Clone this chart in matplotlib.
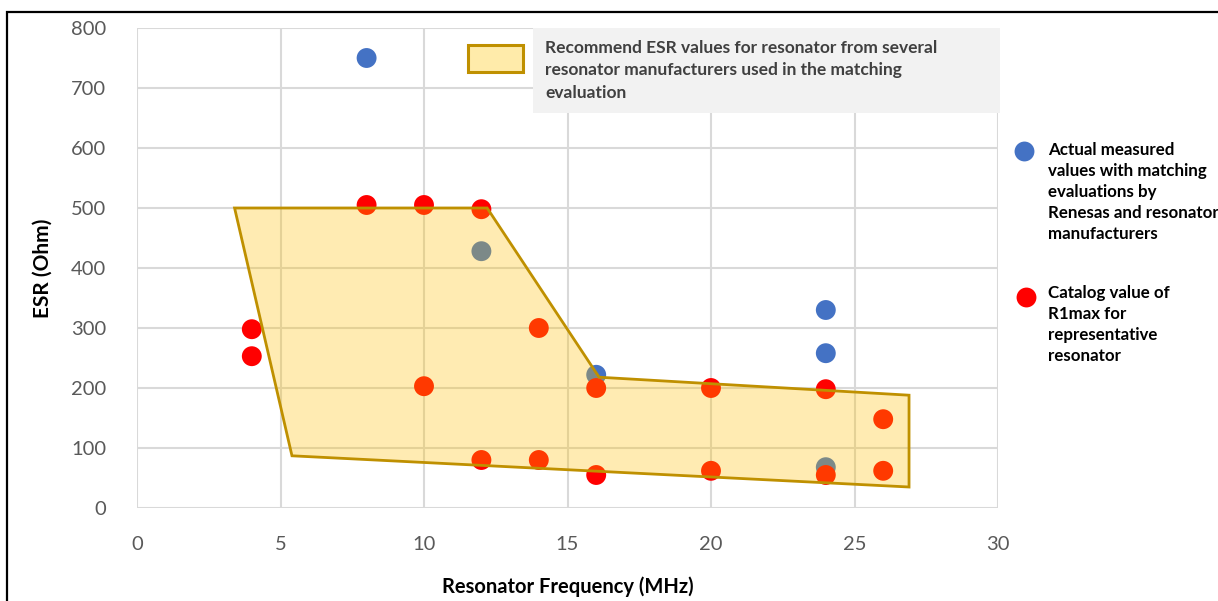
import matplotlib
matplotlib.use("Agg")
import matplotlib.pyplot as plt
from matplotlib.patches import Polygon, Rectangle
from matplotlib.lines import Line2D

plt.rcParams['font.family'] = ['Lato', 'DejaVu Sans']

# Data
blue_x = [8, 12, 16, 24, 24, 24]
blue_y = [750, 428, 222, 330, 258, 68]
red_x = [4, 4, 8, 10, 12, 14, 10, 16, 20, 24, 26, 12, 14, 16, 20, 24, 26]
red_y = [298, 253, 505, 505, 498, 300, 203, 200, 200, 198, 148, 80, 80, 55, 62, 55, 62]
region_x = [3.4, 12.2, 16.1, 26.9, 26.9, 5.4]
region_y = [500, 500, 218, 188, 35, 87]
x_ticks = [0, 5, 10, 15, 20, 25, 30]
y_ticks = [0, 100, 200, 300, 400, 500, 600, 700, 800]

blue_label = "Actual measured\nvalues with matching\nevaluations by\nRenesas and resonator\nmanufacturers"
red_label = "Catalog value of\nR1max for\nrepresentative\nresonator"
region_label = ("Recommend ESR values for resonator from several\n"
                "resonator manufacturers used in the matching\nevaluation")

W, H = 1218, 601
fig = plt.figure(figsize=(W / 100, H / 100), dpi=100)
ax = fig.add_axes([137 / W, 1 - 508 / H, (998 - 137) / W, (508 - 28) / H])

ax.set_xlim(0, 30)
ax.set_ylim(0, 800)
ax.set_xticks(x_ticks)
ax.set_yticks(y_ticks)
ax.grid(True, color='#D9D9D9', linewidth=1.5, zorder=0.5)
ax.set_axisbelow(True)
for s in ax.spines.values():
    s.set_visible(False)
ax.tick_params(length=0, labelsize=14.5, labelcolor='#595959')
ax.tick_params(axis='y', pad=22)
ax.tick_params(axis='x', pad=20)

ms = 205
ax.scatter(blue_x, blue_y, s=ms, color='#4472C4', edgecolors='none', zorder=2, clip_on=False)
ax.scatter(red_x, red_y, s=ms, color='#FF0000', edgecolors='none', zorder=2, clip_on=False)

poly = Polygon(list(zip(region_x, region_y)), closed=True,
               facecolor=(1.0, 192 / 255, 0, 0.3), edgecolor='#BF9000',
               linewidth=2.0, zorder=3)
ax.add_patch(poly)

ax.set_xlabel("Resonator Frequency (MHz)", fontsize=14.5, fontweight='bold', labelpad=17)
ax.set_ylabel("ESR (Ohm)", fontsize=15, fontweight='bold', labelpad=13)

# Top legend box
fig.patches.append(Rectangle((533 / W, 1 - 113 / H), (1000 - 533) / W, (113 - 28) / H,
                             transform=fig.transFigure, facecolor='#F2F2F2',
                             edgecolor='none', zorder=4))
fig.patches.append(Rectangle((468 / W, 1 - 72 / H), (523 - 468) / W, (72 - 45) / H,
                             transform=fig.transFigure, facecolor='#FFEBAA',
                             edgecolor='#BF9000', linewidth=2.2, zorder=5))
fig.text(545 / W, 1 - 40 / H, region_label, fontsize=12.5, color='#404040',
         fontweight='bold', va='top', ha='left', linespacing=1.5, zorder=6)

# Right legend
fig.add_artist(Line2D([1024 / W], [1 - 151 / H], marker='o', markersize=14.3,
                      color='#4472C4', markeredgewidth=0, transform=fig.transFigure))
fig.text(1048 / W, 1 - 142 / H, blue_label, fontsize=12.2, fontweight='bold',
         color='black', va='top', ha='left', linespacing=1.39)
fig.add_artist(Line2D([1026 / W], [1 - 297 / H], marker='o', markersize=14.3,
                      color='#FF0000', markeredgewidth=0, transform=fig.transFigure))
fig.text(1048 / W, 1 - 285 / H, red_label, fontsize=12.2, fontweight='bold',
         color='black', va='top', ha='left', linespacing=1.39)

# Outer frame
fig.patches.append(Rectangle((7 / W, -0.05), 1.2, 1 - 12 / H + 0.05,
                             transform=fig.transFigure, facecolor='none',
                             edgecolor='black', linewidth=1.6, zorder=10))

fig.savefig("out.png", dpi=100)
